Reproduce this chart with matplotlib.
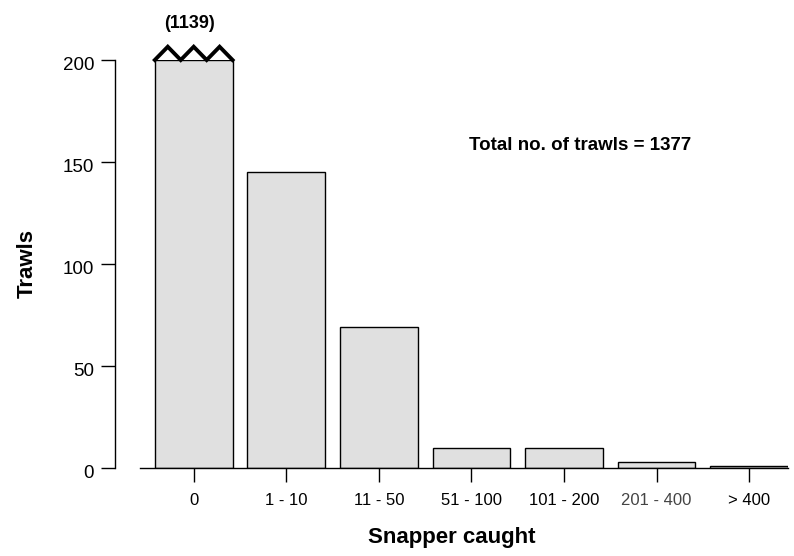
import matplotlib
matplotlib.use("Agg")
import matplotlib.pyplot as plt
import matplotlib.transforms as mtransforms
import numpy as np

# Trawl counts by number of snapper caught
categories = ["0", "1 - 10", "11 - 50", "51 - 100", "101 - 200", "201 - 400", "> 400"]
trawls = [1139, 145, 69, 10, 10, 3, 1]
y_max = 200
total_trawls = sum(trawls)

plt.rcParams["font.family"] = ["Liberation Sans", "DejaVu Sans"]

fig = plt.figure(figsize=(7.94, 5.56), dpi=100)
ax = fig.add_axes([115 / 794, 88 / 556, 673 / 794, 408 / 556])

x = np.arange(len(categories))
bar_w = 0.84
heights = [min(v, y_max) for v in trawls]
ax.bar(x, heights, width=bar_w, color="#e0e0e0", edgecolor="black", linewidth=1.0, zorder=2)

# Broken-bar marker for the bar that runs off the scale
for i, v in enumerate(trawls):
    if v > y_max:
        zx = np.linspace(x[i] - bar_w / 2, x[i] + bar_w / 2, 7)
        zy = np.where(np.arange(7) % 2 == 1, y_max + 6.5, y_max)
        ax.plot(zx, zy, color="black", lw=2.8, solid_joinstyle="miter",
                clip_on=False, zorder=3)
        ax.text(x[i] - 0.04, y_max + 13.5, f"({v})", ha="center", va="bottom",
                fontsize=13, fontweight="bold")

ax.set_xlim(-0.85, x[-1] + bar_w / 2)
ax.set_ylim(0, y_max)

ax.spines["top"].set_visible(False)
ax.spines["right"].set_visible(False)
ax.spines["bottom"].set_bounds(-0.58, x[-1] + bar_w / 2)
ax.spines["left"].set_bounds(0, y_max)
ax.spines["left"].set_linewidth(1.0)
ax.spines["bottom"].set_linewidth(1.0)

ax.set_yticks([0, 50, 100, 150, 200])
ax.set_xticks(x)
ax.set_xticklabels(categories)
ax.tick_params(axis="both", direction="out", length=10, width=1.0)
ax.tick_params(axis="y", labelsize=13.5, pad=5)
ax.tick_params(axis="x", labelsize=12, pad=8)

# y tick labels sit a little below their ticks
shift = mtransforms.ScaledTranslation(0, -3 / 100, fig.dpi_scale_trans)
for lbl in ax.get_yticklabels():
    lbl.set_transform(lbl.get_transform() + shift)

for lbl in ax.get_xticklabels():
    if lbl.get_text() == "201 - 400":
        lbl.set_color("#444444")

ax.set_ylabel("Trawls", fontsize=16, fontweight="bold", labelpad=18)
ax.set_xlabel("Snapper caught", fontsize=16, fontweight="bold", labelpad=14)

ax.text(4.17, 158, f"Total no. of trawls = {total_trawls}", ha="center",
        va="center", fontsize=13.5, fontweight="bold")

fig.savefig("out.png", dpi=100)
